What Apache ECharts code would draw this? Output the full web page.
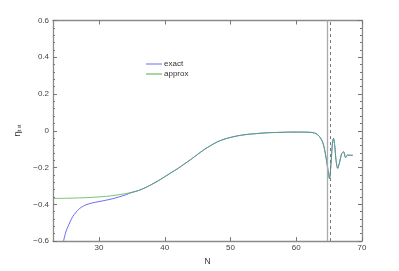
<!DOCTYPE html>
<html><head><meta charset="utf-8">
<script src="https://cdn.jsdelivr.net/npm/echarts@6/dist/echarts.min.js"></script>
<style>html,body{margin:0;padding:0;background:#fff}#c{width:399px;height:271px}</style>
</head><body><div id="c"></div>
<script>
// approx curve (green)
const approxN = [23,25,27,29,31,33,35,36,37,38,39,40,41,42,43,44,45,46,47,48,49,50,51,52,53,54,55,56,57,58,59,60,61,62,62.5,63,63.5,64,64.3,64.6,64.85,65.05,65.3,65.5,65.66,65.85,66.05,66.3,66.6,66.9,67.2,67.5,67.8,68.2,68.6];
const approxV = [-0.368,-0.367,-0.365,-0.362,-0.357,-0.348,-0.335,-0.325,-0.31,-0.292,-0.272,-0.25,-0.227,-0.205,-0.18,-0.155,-0.128,-0.102,-0.08,-0.06,-0.046,-0.036,-0.028,-0.022,-0.018,-0.015,-0.012,-0.01,-0.009,-0.008,-0.007,-0.007,-0.007,-0.008,-0.01,-0.015,-0.03,-0.06,-0.1,-0.16,-0.22,-0.26,-0.17,-0.07,-0.041,-0.08,-0.16,-0.204,-0.17,-0.125,-0.114,-0.146,-0.132,-0.133,-0.133];
// exact curve (blue), leading part where it differs
const exactHeadN = [24.6,24.8,25,25.3,25.6,26,26.5,27,27.5,28,29,30,31,32,33,34];
const exactHeadV = [-0.6,-0.57,-0.545,-0.52,-0.495,-0.467,-0.443,-0.424,-0.412,-0.403,-0.392,-0.385,-0.378,-0.37,-0.36,-0.349];
const xTicks = [30,40,50,60,70];
const solidLineN = 64.7;
const dashedLineN = 65.1;

const approx = approxN.map((n,i)=>[n,approxV[i]]);
const exact = exactHeadN.map((n,i)=>[n,exactHeadV[i]]).concat(approx.filter(p=>p[0]>34));

const minus = v => String(v).replace('-', '\u2212');
const lab = {color:'#444', fontSize:8, fontFamily:'Liberation Sans, Arial, sans-serif'};
const axLine = {show:true, onZero:false, lineStyle:{color:'#8a8a8a', width:1.3}};

const chart = echarts.init(document.getElementById('c'), null, {renderer:'canvas'});
chart.setOption({
  animation:false,
  backgroundColor:'#fff',
  grid:{left:53, right:37, top:20.5, bottom:29.5},
  legend:{
    orient:'vertical', left:146, top:60, padding:0, itemWidth:16, itemHeight:1, itemGap:2,
    icon:'rect', textStyle:Object.assign({}, lab, {color:'#333', padding:[0,0,0,-3]}),
    data:['exact','approx']
  },
  xAxis:[{
    type:'value', min:23, max:70, position:'bottom',
    name:'N', nameLocation:'middle', nameGap:15,
    nameTextStyle:Object.assign({}, lab, {fontSize:8.5, color:'#333'}),
    axisLine:axLine, splitLine:{show:false},
    axisTick:{show:true, inside:true, length:4, customValues:xTicks, lineStyle:{color:'#777'}},
    axisLabel:Object.assign({show:true, margin:3, customValues:xTicks}, lab)
  },{
    type:'value', min:23, max:70, position:'top',
    axisLine:axLine, splitLine:{show:false},
    axisTick:{show:true, inside:true, length:4, customValues:xTicks, lineStyle:{color:'#777'}},
    axisLabel:{show:false}
  }],
  yAxis:[{
    type:'value', min:-0.6, max:0.6, interval:0.2, position:'left',
    name:'{a|η}{b|t}{c| st}', nameLocation:'middle', nameGap:28, nameRotate:90,
    nameTextStyle:{rich:{
      a:{fontSize:9, color:'#333', fontFamily:'DejaVu Sans'},
      b:{fontSize:6, color:'#333', verticalAlign:'bottom', padding:[4,0,0,0]},
      c:{fontSize:4.5, color:'#333', verticalAlign:'bottom', padding:[5,0,0,0]}
    }},
    axisLine:axLine, splitLine:{show:false},
    axisTick:{show:true, inside:true, length:4, lineStyle:{color:'#777'}},
    minorTick:{show:true, splitNumber:5, length:2, lineStyle:{color:'#777'}},
    axisLabel:Object.assign({margin:4, formatter:v=>minus(+v.toFixed(1))}, lab)
  },{
    type:'value', min:-0.6, max:0.6, interval:0.2, position:'right',
    axisLine:axLine, splitLine:{show:false},
    axisTick:{show:true, inside:true, length:4, lineStyle:{color:'#777'}},
    minorTick:{show:true, splitNumber:5, length:2, lineStyle:{color:'#777'}},
    axisLabel:{show:false}
  }],
  series:[{
    name:'exact', type:'line', data:exact, smooth:0.3, symbol:'none',
    lineStyle:{color:'#6b6bf5', width:1}, itemStyle:{color:'#6b6bf5'},
    markLine:{
      silent:true, symbol:'none', label:{show:false},
      data:[
        {xAxis:solidLineN, lineStyle:{color:'#aaaaaa', type:'solid', width:1.3}},
        {xAxis:dashedLineN, lineStyle:{color:'#777777', type:[3,3], width:1}}
      ]
    }
  },{
    name:'approx', type:'line', data:approx, smooth:0.3, symbol:'none',
    lineStyle:{color:'#4fae4f', width:1, opacity:0.75}, itemStyle:{color:'#4fae4f'}
  }]
});
</script></body></html>
